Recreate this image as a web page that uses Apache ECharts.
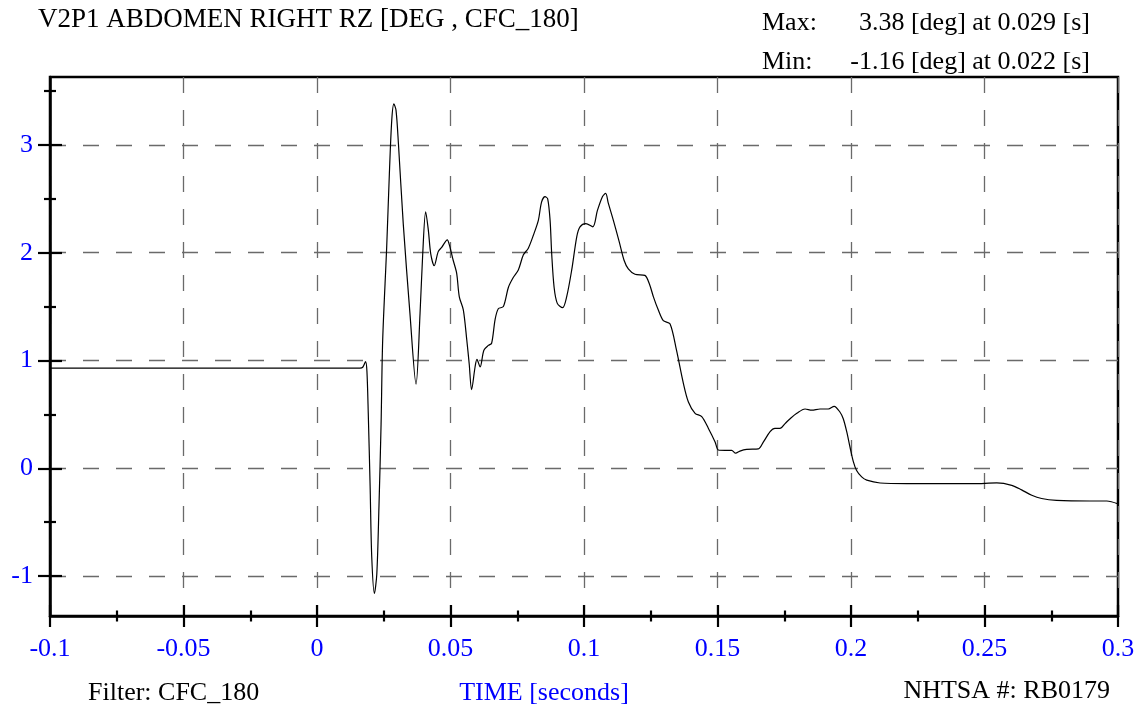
<!DOCTYPE html>
<html>
<head>
<meta charset="utf-8">
<title>V2P1 ABDOMEN RIGHT RZ</title>
<script src="https://cdn.jsdelivr.net/npm/echarts@6/dist/echarts.min.js"></script>
<style>
  html, body { margin: 0; padding: 0; background: #fff; }
  #chart { width: 1143px; height: 709px; }
</style>
</head>
<body>
<div id="chart"></div>
<script>
// Sampled trace: time in seconds, rotation in degrees
const timeSec = [
  -0.1, 0.0161, 0.0172, 0.0182, 0.0187, 0.0192, 0.0199, 0.0205, 0.0215, 0.0224,
  0.0232, 0.0240, 0.0246, 0.0261, 0.0271, 0.0280, 0.0288, 0.0296, 0.0305, 0.0323,
  0.0348, 0.0371, 0.0386, 0.0396, 0.0407, 0.0417, 0.0426, 0.0439, 0.0454, 0.0467,
  0.0488, 0.0496, 0.0510, 0.0523, 0.0533, 0.0548, 0.0561, 0.0570, 0.0579, 0.0592,
  0.0599, 0.0611, 0.0625, 0.0642, 0.0654, 0.0667, 0.0679, 0.0698, 0.0717, 0.0735,
  0.0754, 0.0773, 0.0791, 0.0810, 0.0829, 0.0841, 0.0854, 0.0864, 0.0873, 0.0879,
  0.0888, 0.0900, 0.0920, 0.0935, 0.0954, 0.0973, 0.0985, 0.1007, 0.1033, 0.1050,
  0.1069, 0.1081, 0.1091, 0.1110, 0.1132, 0.1150, 0.1166, 0.1191, 0.1228, 0.1245,
  0.1260, 0.1278, 0.1297, 0.1322, 0.1346, 0.1372, 0.1391, 0.1416, 0.1441, 0.1466,
  0.1491, 0.1503, 0.1528, 0.1553, 0.1568, 0.1584, 0.1609, 0.1653, 0.1672, 0.1697,
  0.1715, 0.1734, 0.1753, 0.1772, 0.1797, 0.1828, 0.1853, 0.1884, 0.1915, 0.1937,
  0.1959, 0.1971, 0.1984, 0.1996, 0.2009, 0.2021, 0.2040, 0.2059, 0.2109, 0.2209,
  0.2458, 0.2546, 0.2602, 0.2639, 0.2677, 0.2714, 0.2770, 0.2895, 0.2958, 0.3
];
const rzDeg = [
  0.93, 0.93, 0.94, 0.99, 0.90, 0.51, -0.17, -0.82, -1.16, -0.98,
  -0.36, 0.41, 1.19, 2.05, 2.73, 3.23, 3.38, 3.32, 3.01, 2.27,
  1.44, 0.78, 1.44, 1.99, 2.38, 2.21, 1.99, 1.88, 2.01, 2.05,
  2.12, 2.07, 1.93, 1.81, 1.59, 1.47, 1.19, 0.97, 0.73, 0.94,
  1.01, 0.94, 1.095, 1.14, 1.16, 1.38, 1.48, 1.50, 1.68, 1.77,
  1.84, 1.98, 2.04, 2.16, 2.30, 2.47, 2.52, 2.50, 2.30, 1.99,
  1.68, 1.53, 1.49, 1.59, 1.84, 2.15, 2.24, 2.27, 2.24, 2.39,
  2.52, 2.55, 2.46, 2.30, 2.10, 1.93, 1.85, 1.80, 1.79, 1.71,
  1.59, 1.47, 1.37, 1.34, 1.10, 0.79, 0.615, 0.51, 0.48, 0.37,
  0.245, 0.17, 0.167, 0.167, 0.14, 0.16, 0.176, 0.18, 0.245, 0.34,
  0.37, 0.37, 0.415, 0.46, 0.51, 0.55, 0.54, 0.55, 0.55, 0.575,
  0.52, 0.46, 0.34, 0.20, 0.06, -0.02, -0.08, -0.11, -0.136, -0.142,
  -0.142, -0.136, -0.158, -0.20, -0.25, -0.28, -0.297, -0.303, -0.303, -0.33
];

// Axis ranges and tick values
const xRange = [-0.1, 0.3];
const xStep = 0.05;
const yRange = [-1.37, 3.63];
const yMajorTicks = [-1, 0, 1, 2, 3];
const yMinorTicks = [-0.5, 0.5, 1.5, 2.5, 3.5];

// Header / footer texts
const titleText = 'V2P1 ABDOMEN RIGHT RZ [DEG , CFC_180]';
const maxLabel = 'Max:';
const maxText = '3.38 [deg] at 0.029 [s]';
const minLabel = 'Min:';
const minText = '-1.16 [deg] at 0.022 [s]';
const filterText = 'Filter: CFC_180';
const axisNameText = 'TIME [seconds]';
const idText = 'NHTSA #: RB0179';

const FONT = '"Liberation Serif", "Times New Roman", serif';
const BLUE = '#0000ff';
const GRID_LINE = { color: '#6a6a6a', width: 1.3, type: [16, 17] };
const AXIS_LINE = { color: '#000', width: 2.5 };
const TICK_LINE = { color: '#000', width: 2.2 };

const chart = echarts.init(document.getElementById('chart'), null, { renderer: 'canvas' });

// Helper axes share the main range and only contribute tick marks
function xAxisBase(extra) {
  return Object.assign({
    type: 'value', min: xRange[0], max: xRange[1], interval: xStep,
    position: 'bottom',
    axisLine: { show: false, onZero: false },
    axisLabel: { show: false },
    splitLine: { show: false }
  }, extra);
}
function yAxisBase(extra) {
  return Object.assign({
    type: 'value', min: yRange[0], max: yRange[1],
    position: 'left',
    axisLine: { show: false, onZero: false },
    axisLabel: { show: false },
    splitLine: { show: false }
  }, extra);
}

const option = {
  animation: false,
  backgroundColor: '#fff',
  grid: {
    left: 50, right: 25, top: 77, bottom: 93,
    show: true, borderColor: '#000', borderWidth: 2.5, backgroundColor: 'transparent'
  },
  xAxis: [
    xAxisBase({
      axisLine: { show: true, onZero: false, lineStyle: AXIS_LINE },
      axisTick: { show: true, length: 11, lineStyle: TICK_LINE },
      minorTick: { show: true, splitNumber: 2, length: 5.5, lineStyle: TICK_LINE },
      axisLabel: {
        show: true, color: BLUE, fontSize: 26, fontFamily: FONT, margin: 20,
        formatter: v => String(+v.toFixed(3))
      },
      splitLine: { show: true, lineStyle: GRID_LINE }
    }),
    xAxisBase({
      axisTick: { show: true, inside: true, length: 11, lineStyle: TICK_LINE },
      minorTick: { show: true, splitNumber: 2, length: 5.5, lineStyle: TICK_LINE }
    })
  ],
  yAxis: [
    yAxisBase({
      axisLine: { show: true, onZero: false, lineStyle: AXIS_LINE },
      axisTick: { show: true, length: 12, lineStyle: TICK_LINE, customValues: yMajorTicks },
      axisLabel: {
        show: true, color: BLUE, fontSize: 26, fontFamily: FONT, margin: 17,
        customValues: yMajorTicks
      },
      splitLine: { show: true, lineStyle: GRID_LINE }
    }),
    yAxisBase({
      axisTick: { show: true, inside: true, length: 12, lineStyle: TICK_LINE, customValues: yMajorTicks }
    }),
    yAxisBase({
      axisTick: { show: true, length: 6, lineStyle: TICK_LINE, customValues: yMinorTicks }
    }),
    yAxisBase({
      axisTick: { show: true, inside: true, length: 6, lineStyle: TICK_LINE, customValues: yMinorTicks }
    })
  ],
  series: [{
    type: 'line',
    xAxisIndex: 0,
    yAxisIndex: 0,
    data: timeSec.map((t, i) => [t, rzDeg[i]]),
    showSymbol: false,
    smooth: 0.3,
    lineStyle: { color: '#000', width: 1.2 },
    z: 5
  }],
  graphic: [
    { type: 'text', left: 38, top: 6,
      style: { text: titleText, font: '27px ' + FONT, fill: '#000' } },
    { type: 'text', x: 762, y: 23,
      style: { text: maxLabel, font: '26px ' + FONT, fill: '#000', verticalAlign: 'middle' } },
    { type: 'text', x: 1090, y: 23,
      style: { text: maxText, font: '26px ' + FONT, fill: '#000', align: 'right', verticalAlign: 'middle' } },
    { type: 'text', x: 762, y: 62,
      style: { text: minLabel, font: '26px ' + FONT, fill: '#000', verticalAlign: 'middle' } },
    { type: 'text', x: 1090, y: 62,
      style: { text: minText, font: '26px ' + FONT, fill: '#000', align: 'right', verticalAlign: 'middle' } },
    { type: 'text', x: 88, y: 693,
      style: { text: filterText, font: '26px ' + FONT, fill: '#000', verticalAlign: 'middle' } },
    { type: 'text', x: 544, y: 693,
      style: { text: axisNameText, font: '26px ' + FONT, fill: BLUE, align: 'center', verticalAlign: 'middle' } },
    { type: 'text', x: 1110, y: 691,
      style: { text: idText, font: '26px ' + FONT, fill: '#000', align: 'right', verticalAlign: 'middle' } }
  ]
};

chart.setOption(option);
</script>
</body>
</html>
